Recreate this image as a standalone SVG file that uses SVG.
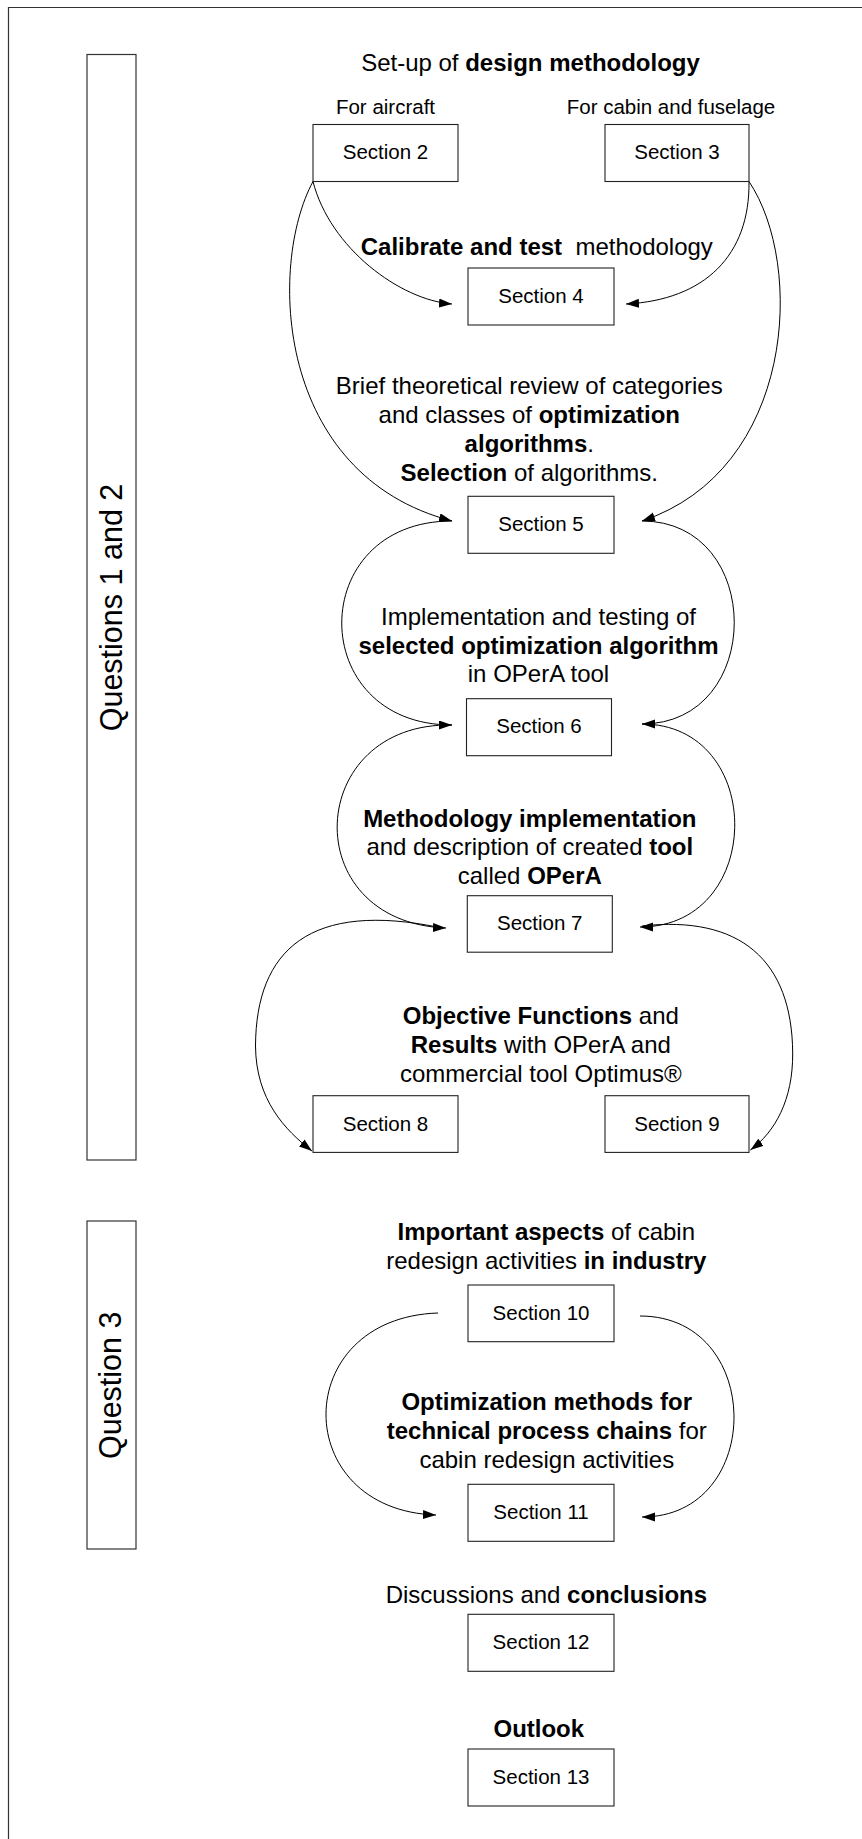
<svg xmlns="http://www.w3.org/2000/svg" width="862" height="1839" viewBox="0 0 862 1839">
<style>
  .frame { fill: none; stroke: #333; stroke-width: 1.2; }
  .box { fill: #fff; stroke: #222; stroke-width: 1.1; }
  .qbox { fill: #fff; stroke: #333; stroke-width: 1.2; }
  .lbl { font-family: "Liberation Sans", Arial, sans-serif; font-size: 20.5px; fill: #000; text-anchor: middle; }
  .txt { font-family: "Liberation Sans", Arial, sans-serif; font-size: 24px; fill: #000; text-anchor: middle; }
  .q { font-family: "Liberation Sans", Arial, sans-serif; font-size: 30.5px; fill: #000; text-anchor: middle; }
  .b { font-weight: bold; }
  .con { fill: none; stroke: #000; stroke-width: 1; }
</style>
<defs>
  <marker id="arr" markerUnits="userSpaceOnUse" markerWidth="14" markerHeight="10" refX="13" refY="4.5" orient="auto">
    <path d="M0,0 L13,4.5 L0,9 Z" fill="#000"/>
  </marker>
</defs>
<rect width="862" height="1839" fill="#fff"/>
<path class="frame" d="M8.5,1845 L8.5,7.5 L870,7.5"/>

<g id="questions12">
  <rect class="qbox" x="87" y="54.5" width="49" height="1105.5"/>
  <text class="q" transform="translate(121.5,607.5) rotate(-90)">Questions 1 and 2</text>
</g>
<g id="question3">
  <rect class="qbox" x="87" y="1221" width="49" height="328"/>
  <text class="q" transform="translate(121.3,1385.3) rotate(-90)">Question 3</text>
</g>

<g id="connectors">
  <path class="con" marker-end="url(#arr)" d="M313,181.5 C330,248 400,300 452,304"/>
  <path class="con" marker-end="url(#arr)" d="M749,181.5 C750,255 705,300 626,304"/>
  <path class="con" marker-end="url(#arr)" d="M313,181.5 C268,265 275,475 452,521"/>
  <path class="con" marker-end="url(#arr)" d="M749,181.5 C805,265 795,470 642,521"/>
  <path class="con" marker-end="url(#arr)" d="M452,521 C305,521 305,725 452,725"/>
  <path class="con" marker-end="url(#arr)" d="M642,521 C765,521 765,724 642,724"/>
  <path class="con" marker-end="url(#arr)" d="M452,725 C305,722 295,922 446,928"/>
  <path class="con" marker-end="url(#arr)" d="M642,724 C766,724 766,927 640,927"/>
  <path class="con" marker-end="url(#arr)" d="M442,928 C310,900 256,950 255.5,1046 C256,1100 285,1130 312,1151"/>
  <path class="con" marker-end="url(#arr)" d="M642,926 C740,915 792,960 792.7,1053 C793,1100 775,1132 750.4,1150"/>
  <path class="con" marker-end="url(#arr)" d="M438,1313 C289,1318 289,1510 436,1515"/>
  <path class="con" marker-end="url(#arr)" d="M640,1316 C765,1316 765,1517 642,1517"/>
</g>

<g id="title">
  <text class="txt" x="530.5" y="70.5">Set-up of <tspan class="b">design methodology</tspan></text>
</g>
<g id="section2">
  <text class="lbl" x="385.5" y="113.5">For aircraft</text>
  <rect class="box" x="313" y="124.5" width="145" height="57"/>
  <text class="lbl" x="385.5" y="159.3">Section 2</text>
</g>
<g id="section3">
  <text class="lbl" x="671" y="113.5">For cabin and fuselage</text>
  <rect class="box" x="605" y="124.5" width="144" height="57"/>
  <text class="lbl" x="677" y="159.3">Section 3</text>
</g>
<g id="section4">
  <text class="txt" x="536.8" y="255" xml:space="preserve"><tspan class="b">Calibrate and test</tspan>  methodology</text>
  <rect class="box" x="468" y="268" width="146" height="57"/>
  <text class="lbl" x="541" y="302.5">Section 4</text>
</g>
<g id="section5">
  <text class="txt" x="529.3" y="394.3">Brief theoretical review of categories</text>
  <text class="txt" x="529.3" y="423.2">and classes of <tspan class="b">optimization</tspan></text>
  <text class="txt" x="529.3" y="452.1"><tspan class="b">algorithms</tspan>.</text>
  <text class="txt" x="529.3" y="481"><tspan class="b">Selection</tspan> of algorithms.</text>
  <rect class="box" x="468" y="496.3" width="146" height="57"/>
  <text class="lbl" x="541" y="531">Section 5</text>
</g>
<g id="section6">
  <text class="txt" x="538.5" y="625">Implementation and testing of</text>
  <text class="txt b" x="538.5" y="653.5">selected optimization algorithm</text>
  <text class="txt" x="538.5" y="682">in OPerA tool</text>
  <rect class="box" x="466.5" y="698.7" width="145" height="57"/>
  <text class="lbl" x="539" y="733">Section 6</text>
</g>
<g id="section7">
  <text class="txt b" x="529.8" y="826.7">Methodology implementation</text>
  <text class="txt" x="529.8" y="855.3">and description of created <tspan class="b">tool</tspan></text>
  <text class="txt" x="529.8" y="883.8">called <tspan class="b">OPerA</tspan></text>
  <rect class="box" x="467.3" y="895.7" width="145" height="56.5"/>
  <text class="lbl" x="539.8" y="930.3">Section 7</text>
</g>
<g id="results-text">
  <text class="txt" x="540.8" y="1024"><tspan class="b">Objective Functions</tspan> and</text>
  <text class="txt" x="540.8" y="1052.8"><tspan class="b">Results</tspan> with OPerA and</text>
  <text class="txt" x="540.8" y="1081.6">commercial tool Optimus®</text>
</g>
<g id="section8">
  <rect class="box" x="313" y="1095.7" width="145" height="56.7"/>
  <text class="lbl" x="385.5" y="1130.5">Section 8</text>
</g>
<g id="section9">
  <rect class="box" x="605" y="1095.7" width="144" height="56.7"/>
  <text class="lbl" x="677" y="1130.5">Section 9</text>
</g>
<g id="section10">
  <text class="txt" x="546.3" y="1240"><tspan class="b">Important aspects</tspan> of cabin</text>
  <text class="txt" x="546.3" y="1268.6">redesign activities <tspan class="b">in industry</tspan></text>
  <rect class="box" x="468" y="1285" width="146" height="56.7"/>
  <text class="lbl" x="541" y="1320">Section 10</text>
</g>
<g id="section11">
  <text class="txt b" x="546.8" y="1410">Optimization methods for</text>
  <text class="txt" x="546.8" y="1438.8"><tspan class="b">technical process chains</tspan> for</text>
  <text class="txt" x="546.8" y="1467.6">cabin redesign activities</text>
  <rect class="box" x="468" y="1484.3" width="146" height="57"/>
  <text class="lbl" x="541" y="1519.3">Section 11</text>
</g>
<g id="section12">
  <text class="txt" x="546.4" y="1603.3">Discussions and <tspan class="b">conclusions</tspan></text>
  <rect class="box" x="468" y="1614.3" width="146" height="57"/>
  <text class="lbl" x="541" y="1649.3">Section 12</text>
</g>
<g id="section13">
  <text class="txt b" x="538.8" y="1737.3">Outlook</text>
  <rect class="box" x="468" y="1749" width="146" height="57"/>
  <text class="lbl" x="541" y="1784">Section 13</text>
</g>
</svg>
